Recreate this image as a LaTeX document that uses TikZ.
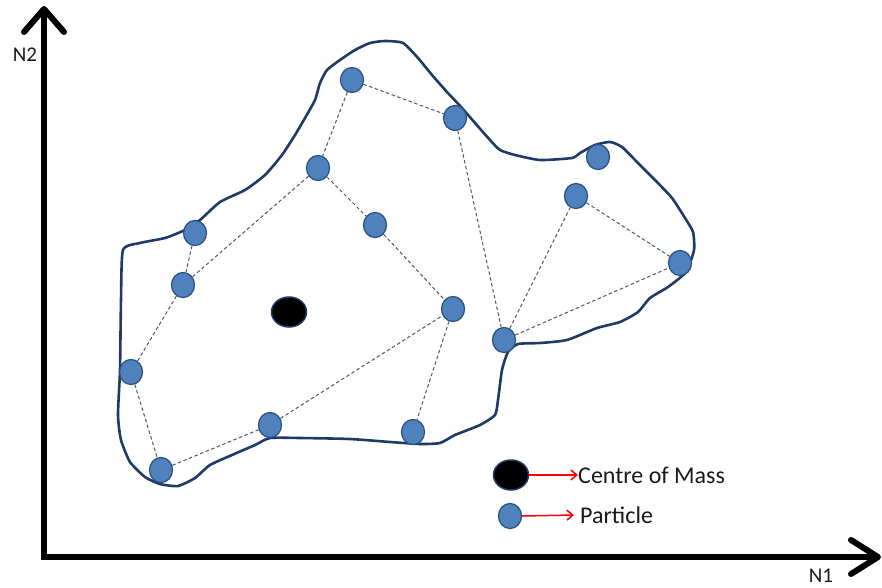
\documentclass[tikz,border=0pt]{standalone}
\usepackage{fontspec}
\setmainfont{Carlito}
\usetikzlibrary{shapes.geometric,arrows.meta}
\definecolor{pfill}{HTML}{4F81BD}
\definecolor{pedge}{HTML}{2F5380}
\definecolor{outl}{HTML}{1F3A66}
\definecolor{dashc}{HTML}{4A5674}
\definecolor{txt}{HTML}{1A1A1A}
\tikzset{
  particle/.style={ellipse,fill=pfill,draw=pedge,line width=1.3pt,minimum width=23pt,minimum height=25pt,inner sep=0pt},
  com/.style={ellipse,fill=black,draw=outl,line width=1.5pt,minimum width=35pt,minimum height=30pt,inner sep=0pt},
  link/.style={draw=dashc,line width=1pt,dash pattern=on 3.5pt off 2.5pt},
  axis/.style={line width=6pt},
  axtip/.style={line width=6pt,line cap=round,line join=round},
  legarrow/.style={draw=red,line width=1.5pt,-{Straight Barb[length=6pt,width=10pt,line width=1.5pt]}},
  lbl/.style={text=txt,font=\fontsize{24}{26}\selectfont,anchor=west,inner sep=0pt},
  axlbl/.style={text=txt,font=\fontsize{21}{23}\selectfont,inner sep=0pt}
}
\begin{document}
\begin{tikzpicture}[x=1pt,y=-1pt]
\useasboundingbox (0,0) rectangle (882,588);
% outline
\draw[outl,line width=2.6pt,line join=round] plot[smooth cycle,tension=0.35] coordinates {
(123,250) (140,243) (165,238) (185,230) (200,220) (220,202) (245,190) (265,175) (282,155) (295,135) (305,118) (315,100) (320,83) (327,70) (340,60) (355,50) (370,43) (385,41) (403,43) (418,58) (432,75) (447,92) (462,108) (475,123) (490,140) (500,150) (515,155) (540,160) (572,158) (580,153) (595,145) (610,142) (622,147) (638,163) (655,180) (672,198) (685,218) (693,232) (694,250) (686,272) (668,287) (650,298) (638,312) (620,322) (597,328) (567,340) (540,343) (518,344) (508,352) (502,370) (498,400) (495,415) (480,425) (455,435) (440,443) (420,444) (390,442) (350,439) (300,438) (270,438) (255,445) (232,455) (210,465) (195,478) (178,486) (160,484) (145,477) (130,462) (121,440) (118,415) (120,370) (121,300)};
% particles
\node[particle] (p1) at (352,80) {};
\node[particle] (p2) at (455,118) {};
\node[particle] (p3) at (318,168) {};
\node[particle] (p4) at (598,157) {};
\node[particle] (p5) at (576,196) {};
\node[particle] (p6) at (195,233) {};
\node[particle] (p7) at (375,225) {};
\node[particle] (p8) at (183,285) {};
\node[particle] (p9) at (680,263) {};
\node[particle] (p10) at (453,309) {};
\node[particle] (p11) at (504,340) {};
\node[particle] (p12) at (131,372) {};
\node[particle] (p13) at (270,425) {};
\node[particle] (p14) at (413,432) {};
\node[particle] (p15) at (161,470) {};
\node[com] (cm) at (289,312) {};
% links
\draw[link] (p1) -- (p2);
\draw[link] (p1) -- (p3);
\draw[link] (p2) -- (p11);
\draw[link] (p3) -- (p8);
\draw[link] (p3) -- (p7);
\draw[link] (p6) -- (p8);
\draw[link] (p7) -- (p10);
\draw[link] (p8) -- (p12);
\draw[link] (p12) -- (p15);
\draw[link] (p15) -- (p13);
\draw[link] (p13) -- (p10);
\draw[link] (p10) -- (p14);
\draw[link] (p11) -- (p5);
\draw[link] (p11) -- (p9);
\draw[link] (p5) -- (p9);
% axes
\coordinate (ytop) at (44,9);
\coordinate (xend) at (878,557);
\draw[axis] (44,560) -- (ytop);
\draw[axis] (41,557) -- (xend);
\draw[axtip] (24,32) -- (ytop) -- (64,32);
\draw[axtip] (851,540) -- (xend) -- (851,574);
\node[axlbl] (n2) at (25,55) {N2};
\node[axlbl] (n1) at (821,576) {N1};
% legend
\node[com] (lc) at (511,475) {};
\node[particle] (lp) at (510,516) {};
\node[lbl] (tc) at (578,475) {Centre of Mass};
\node[lbl] (tp) at (580,515) {Particle};
\draw[legarrow] (lc.east) -- (tc.west);
\draw[legarrow] (lp.east) -- ([xshift=-6pt]tp.west);
\end{tikzpicture}
\end{document}
